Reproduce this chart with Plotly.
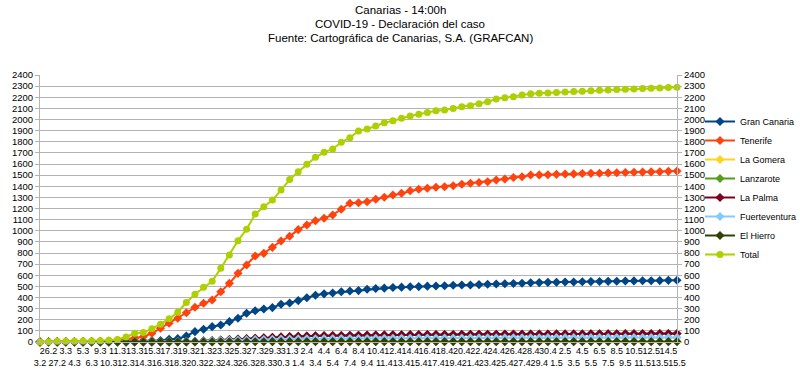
import plotly.graph_objects as go

dates = ["3.2", "26.2", "27.2", "3.3", "4.3", "5.3", "6.3", "9.3", "10.3",
         "11.3", "12.3", "13.3", "14.3", "15.3", "16.3", "17.3", "18.3", "19.3", "20.3",
         "21.3", "22.3", "23.3", "24.3", "25.3", "26.3", "27.3", "28.3", "29.3", "30.3", "31.3",
         "1.4", "2.4", "3.4", "4.4", "5.4", "6.4", "7.4", "8.4", "9.4", "10.4",
         "11.4", "12.4", "13.4", "14.4", "15.4", "16.4", "17.4", "18.4", "19.4", "20.4",
         "21.4", "22.4", "23.4", "24.4", "25.4", "26.4", "27.4", "28.4", "29.4", "30.4",
         "1.5", "2.5", "3.5", "4.5", "5.5", "6.5", "7.5", "8.5", "9.5", "10.5",
         "11.5", "12.5", "13.5", "14.5", "15.5"]

gran_canaria = [0, 1, 1, 1, 1, 1, 2, 2, 3,
                4, 7, 10, 10, 12, 14, 24, 30, 54, 93, 114, 138,
                153, 183, 213, 258, 281, 297, 309, 339, 350, 372,
                398, 420, 433, 440, 452, 458, 462, 474, 481, 484,
                490, 493, 496, 498, 502, 504, 505, 510, 512, 513,
                516, 519, 521, 523, 526, 528, 532, 534, 536, 537,
                539, 540, 542, 543, 544, 545, 546, 548, 549, 550,
                551, 552, 554, 555]

tenerife = [0, 2, 4, 5, 5, 5, 6, 7, 8,
            12, 25, 35, 48, 78, 123, 168, 213, 263, 312, 348, 378,
            452, 527, 617, 692, 773, 797, 851, 908, 950, 1010,
            1052, 1090, 1112, 1142, 1193, 1247, 1252, 1261, 1283, 1301,
            1321, 1337, 1360, 1373, 1382, 1391, 1396, 1405, 1418, 1427,
            1434, 1441, 1456, 1465, 1478, 1486, 1501, 1502, 1503, 1507,
            1510, 1511, 1514, 1516, 1517, 1520, 1522, 1523, 1526, 1527,
            1529, 1531, 1534, 1536]

la_gomera = [1, 1, 1, 1, 1, 1, 1, 1, 1,
             1, 1, 1, 1, 1, 1, 1, 1, 1, 1, 1, 1,
             2, 3, 4, 5, 6, 6, 7, 7, 7, 8,
             8, 8, 8, 8, 8, 8, 8, 8, 8, 8,
             8, 8, 8, 8, 8, 8, 8, 8, 8, 8,
             8, 8, 8, 8, 8, 8, 8, 8, 8, 8,
             8, 8, 8, 8, 8, 8, 8, 8, 8, 8,
             8, 8, 8, 8]

lanzarote = [0, 0, 0, 0, 0, 0, 0, 0, 0,
             0, 1, 1, 2, 2, 3, 3, 4, 5, 7, 10, 13,
             17, 21, 25, 29, 33, 37, 41, 45, 48, 51,
             53, 55, 56, 57, 58, 59, 60, 61, 62, 63,
             64, 64, 65, 65, 66, 66, 67, 67, 68, 68,
             69, 69, 69, 70, 70, 70, 71, 71, 71, 72,
             72, 72, 72, 73, 73, 73, 73, 74, 74, 74,
             74, 75, 75, 75]

la_palma = [0, 0, 0, 0, 0, 0, 0, 0, 0,
            0, 0, 0, 0, 0, 1, 1, 2, 4, 7, 11, 14,
            18, 22, 26, 30, 34, 38, 42, 46, 49, 52,
            54, 56, 57, 58, 59, 60, 61, 62, 63, 64,
            65, 65, 66, 66, 67, 67, 68, 68, 69, 69,
            70, 70, 70, 71, 71, 71, 72, 72, 72, 73,
            73, 73, 73, 74, 74, 74, 74, 75, 75, 75,
            75, 76, 76, 76]

fuerteventura = [0, 0, 0, 0, 0, 0, 0, 0, 0,
                 0, 0, 0, 0, 0, 0, 1, 3, 5, 7, 9, 11,
                 13, 15, 17, 19, 21, 23, 24, 26, 27, 28,
                 29, 29, 30, 30, 31, 31, 32, 32, 33, 33,
                 34, 34, 34, 35, 35, 35, 36, 36, 36, 37,
                 37, 37, 37, 38, 38, 38, 38, 38, 39, 39,
                 39, 39, 39, 39, 40, 40, 40, 40, 40, 40,
                 40, 40, 40, 40]

el_hierro = [0, 0, 0, 0, 0, 0, 0, 0, 0,
             0, 0, 0, 0, 0, 0, 1, 1, 1, 1, 1, 1,
             2, 2, 2, 2, 2, 2, 3, 3, 3, 3,
             3, 3, 3, 3, 3, 3, 3, 3, 3, 3,
             3, 3, 3, 3, 3, 3, 3, 3, 3, 3,
             3, 3, 3, 3, 3, 3, 3, 3, 3, 3,
             3, 3, 3, 3, 3, 3, 3, 3, 3, 3,
             3, 3, 3, 3]

total = [1, 3, 6, 7, 7, 8, 10, 11, 15,
         22, 45, 78, 86, 118, 160, 208, 268, 355, 430, 492, 546,
         662, 782, 911, 1013, 1150, 1216, 1276, 1366, 1460, 1531,
         1597, 1660, 1705, 1735, 1795, 1836, 1897, 1915, 1942, 1971,
         1989, 2011, 2031, 2047, 2064, 2079, 2085, 2100, 2115, 2124,
         2142, 2160, 2184, 2196, 2205, 2220, 2232, 2236, 2239, 2243,
         2247, 2252, 2255, 2258, 2262, 2266, 2269, 2272, 2275, 2278,
         2281, 2284, 2287, 2290]

title_lines = ["Canarias - 14:00h",
               "COVID-19 - Declaración del caso",
               "Fuente: Cartográfica de Canarias, S.A. (GRAFCAN)"]

series = [
    ("Gran Canaria", gran_canaria, "#004586", "diamond", 7),
    ("Tenerife", tenerife, "#ff420e", "diamond", 7),
    ("La Gomera", la_gomera, "#ffd320", "diamond", 7),
    ("Lanzarote", lanzarote, "#579d1c", "diamond", 7),
    ("La Palma", la_palma, "#7e0021", "diamond", 7),
    ("Fuerteventura", fuerteventura, "#83caff", "diamond", 7),
    ("El Hierro", el_hierro, "#314004", "diamond", 7),
    ("Total", total, "#aecf00", "circle", 7),
]

FONT = "Liberation Sans, Arial, sans-serif"
W, H = 800, 380
ML, MR, MT, MB = 40, 123, 75, 38
PW, PH = W - ML - MR, H - MT - MB

fig = go.Figure()
for name, vals, color, sym, size in series:
    fig.add_trace(go.Scatter(
        x=dates, y=vals, name=name, mode="lines+markers",
        line=dict(color=color, width=2),
        marker=dict(symbol=sym, size=size, color=color),
        cliponaxis=False,
    ))

# invisible companion trace so the right-hand axis is drawn
fig.add_trace(go.Scatter(
    x=dates, y=total, yaxis="y2", mode="lines", showlegend=False,
    hoverinfo="skip", opacity=0, line=dict(width=0),
))

ticktext = [(" <br>" + d) if i % 2 == 0 else (d + "<br> ") for i, d in enumerate(dates)]

# title lines as centred text (page centre x=400; line centres at 10, 24, 38 px)
annotations = []
for k, line in enumerate(title_lines):
    ypx = 10 + 14 * k
    annotations.append(dict(
        text=line, xref="paper", yref="paper",
        x=(W / 2 - ML) / PW, y=(H - MB - ypx) / PH,
        xanchor="center", yanchor="middle", showarrow=False,
        font=dict(family=FONT, size=11.5, color="#000000"),
    ))

grid = "#b3b3b3"
fig.update_layout(
    width=W, height=H,
    paper_bgcolor="white", plot_bgcolor="white",
    margin=dict(l=ML, r=MR, t=MT, b=MB, autoexpand=False),
    font=dict(family=FONT, size=10, color="#000000"),
    annotations=annotations,
    xaxis=dict(
        type="category", range=[0, len(dates) - 1],
        tickmode="array", tickvals=dates, ticktext=ticktext, tickangle=0,
        tickfont=dict(size=9, color="#000000"),
        showgrid=False, showline=True, linecolor=grid, linewidth=1,
        ticks="", zeroline=False, automargin=False,
    ),
    yaxis=dict(
        range=[0, 2400], dtick=100, tick0=0,
        showgrid=True, gridcolor=grid, gridwidth=1,
        showline=True, linecolor=grid, ticks="outside", tickcolor=grid, ticklen=4,
        tickfont=dict(size=9.5, color="#000000"), zeroline=False, automargin=False,
    ),
    yaxis2=dict(
        range=[0, 2400], dtick=100, tick0=0, overlaying="y", side="right",
        showgrid=False, showline=True, linecolor=grid, ticks="outside", tickcolor=grid, ticklen=4,
        tickfont=dict(size=9.5, color="#000000"), zeroline=False, automargin=False,
    ),
    legend=dict(
        x=(700 - ML) / PW, xanchor="left", y=(H - MB - 188) / PH, yanchor="middle",
        font=dict(family=FONT, size=9, color="#000000"),
        bgcolor="rgba(0,0,0,0)", tracegroupgap=0, itemwidth=30,
    ),
    showlegend=True,
)

fig.write_html("out.html", config={"displayModeBar": False},
               post_script="document.body.style.margin='0';")
